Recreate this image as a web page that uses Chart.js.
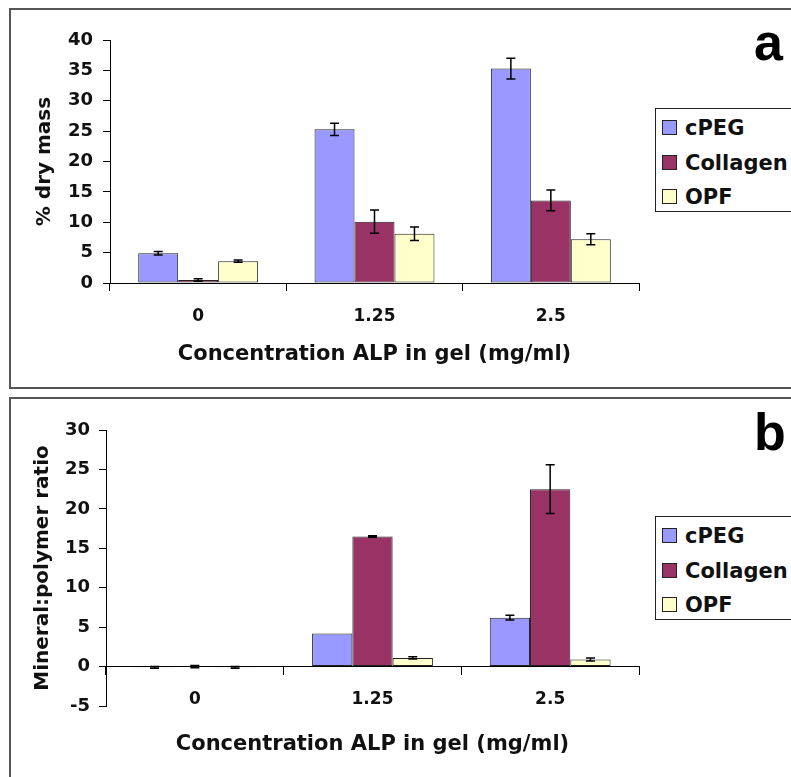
<!DOCTYPE html>
<html>
<head>
<meta charset="utf-8">
<script src="https://cdn.jsdelivr.net/npm/chart.js@4"></script>
<style>
  body { margin: 0; width: 791px; height: 777px; overflow: hidden; background: #fff; position: relative; }
  .panel { position: absolute; left: 9px; width: 800px; border: 2px solid #555; box-sizing: border-box; }
  canvas { position: absolute; left: 0; }
  .legend { position: absolute; left: 655px; width: 160px; border: 1.5px solid #222; background: #fff; box-sizing: border-box;
            font: bold 21px "DejaVu Sans", sans-serif; color: #111; padding: 9px 0 0 6px; }
  .legend div { height: 34.5px; line-height: 20px; white-space: nowrap; }
  .legend span.sw { display: inline-block; width: 13px; height: 13px; border: 1px solid #222; margin-right: 8px; vertical-align: 0px; }
  .tag { position: absolute; font: bold 52px "Liberation Sans", Arial, sans-serif; color: #000; line-height: 1; }
</style>
</head>
<body>
<div class="panel" style="top:8px;height:381px"></div>
<div class="panel" style="top:397px;height:400px"></div>
<canvas id="chartA" width="791" height="388" style="top:0"></canvas>
<canvas id="chartB" width="791" height="387" style="top:390px"></canvas>
<div class="legend" id="legendA" style="top:108px;height:104px"></div>
<div class="legend" id="legendB" style="top:516px;height:104px"></div>
<div class="tag" style="left:754px;top:16px">a</div>
<div class="tag" style="left:754px;top:406px">b</div>
<script>
const categories = ["0", "1.25", "2.5"];
const seriesNames = ["cPEG", "Collagen", "OPF"];
const seriesColors = ["#9999ff", "#993366", "#ffffcc"];

// panel a: % dry mass
const dryMassCPEG = [4.9, 25.3, 35.3];
const dryMassCollagen = [0.5, 10.1, 13.6];
const dryMassOPF = [3.6, 8.1, 7.2];
const dryMassErrCPEG = [0.3, 1.0, 1.7];
const dryMassErrCollagen = [0.2, 1.9, 1.7];
const dryMassErrOPF = [0.2, 1.1, 0.9];

// panel b: mineral:polymer ratio
const ratioCPEG = [-0.1, 4.2, 6.2];
const ratioCollagen = [0, 16.5, 22.5];
const ratioOPF = [-0.1, 1.1, 0.9];
const ratioErrCPEG = [0.1, 0, 0.3];
const ratioErrCollagen = [0.15, 0.1, 3.1];
const ratioErrOPF = [0.1, 0.15, 0.2];

const fontFamily = '"DejaVu Sans", sans-serif';
const textColor = "#111";

const errorBars = {
  id: "errorBars",
  afterDatasetsDraw(chart) {
    const ctx = chart.ctx;
    const y = chart.scales.y;
    ctx.save();
    ctx.strokeStyle = "#000";
    ctx.lineWidth = 1.5;
    chart.data.datasets.forEach((ds, i) => {
      const meta = chart.getDatasetMeta(i);
      meta.data.forEach((bar, j) => {
        const e = ds.errors[j];
        if (!e) return;
        const v = ds.data[j];
        const top = y.getPixelForValue(v + e);
        const bot = y.getPixelForValue(v - e);
        ctx.beginPath();
        ctx.moveTo(bar.x, top);
        ctx.lineTo(bar.x, bot);
        ctx.moveTo(bar.x - 4.5, top);
        ctx.lineTo(bar.x + 4.5, top);
        ctx.moveTo(bar.x - 4.5, bot);
        ctx.lineTo(bar.x + 4.5, bot);
        ctx.stroke();
      });
    });
    ctx.restore();
  }
};

function makeDatasets(values, errors) {
  return seriesNames.map((name, i) => ({
    label: name,
    data: values[i],
    errors: errors[i],
    backgroundColor: seriesColors[i],
    borderColor: "#222",
    borderWidth: 1,
    borderSkipped: false,
    categoryPercentage: 0.68,
    barPercentage: 1
  }));
}

function makeChart(id, datasets, yOpts, xOpts) {
  return new Chart(document.getElementById(id), {
    type: "bar",
    data: { labels: categories, datasets: datasets },
    options: {
      responsive: false,
      animation: false,
      layout: { padding: { left: 0, top: 40, right: 152, bottom: xOpts.bottomPad } },
      plugins: { legend: { display: false }, tooltip: { enabled: false } },
      scales: {
        y: {
          min: yOpts.min,
          max: yOpts.max,
          ticks: { stepSize: 5, color: textColor, padding: yOpts.tickPad, font: { family: fontFamily, size: 18, weight: "bold" } },
          grid: { drawOnChartArea: false, drawTicks: true, tickLength: 7, color: "#000" },
          border: { color: "#000", width: 1 },
          title: { display: true, text: yOpts.title, color: textColor, padding: { top: yOpts.titlePad },
                   font: { family: fontFamily, size: 20, weight: "bold" } },
          afterFit: (s) => { s.width = yOpts.width; }
        },
        x: Object.assign({
          ticks: { color: textColor, padding: 15, font: { family: fontFamily, size: 17, weight: "bold" } },
          grid: { offset: true, drawOnChartArea: false, drawTicks: true, tickLength: 8, color: "#000" },
          border: { color: "#000", width: 1 },
          title: { display: true, text: "Concentration ALP in gel (mg/ml)", color: textColor,
                   padding: { bottom: xOpts.titlePad }, font: { family: fontFamily, size: 21, weight: "bold" } },
          afterFit: (s) => { s.height = xOpts.height; }
        }, xOpts.extra)
      }
    },
    plugins: [errorBars]
  });
}

makeChart("chartA",
  makeDatasets([dryMassCPEG, dryMassCollagen, dryMassOPF], [dryMassErrCPEG, dryMassErrCollagen, dryMassErrOPF]),
  { min: 0, max: 40, title: "% dry mass", width: 110, tickPad: 10, titlePad: 33 },
  { height: 105, titlePad: 21, bottomPad: 0, extra: {} });

// the x axis of panel b sits on y = 0 and reserves no room, so the padding sets the plot bottom
makeChart("chartB",
  makeDatasets([ratioCPEG, ratioCollagen, ratioOPF], [ratioErrCPEG, ratioErrCollagen, ratioErrOPF]),
  { min: -5, max: 30, title: "Mineral:polymer ratio", width: 106, tickPad: 9, titlePad: 31 },
  { height: 71, titlePad: -20, bottomPad: 71, extra: { position: { y: 0 } } });

function buildLegend(id) {
  const el = document.getElementById(id);
  seriesNames.forEach((name, i) => {
    const row = document.createElement("div");
    const sw = document.createElement("span");
    sw.className = "sw";
    sw.style.background = seriesColors[i];
    row.appendChild(sw);
    row.appendChild(document.createTextNode(name));
    el.appendChild(row);
  });
}
buildLegend("legendA");
buildLegend("legendB");
</script>
</body>
</html>
